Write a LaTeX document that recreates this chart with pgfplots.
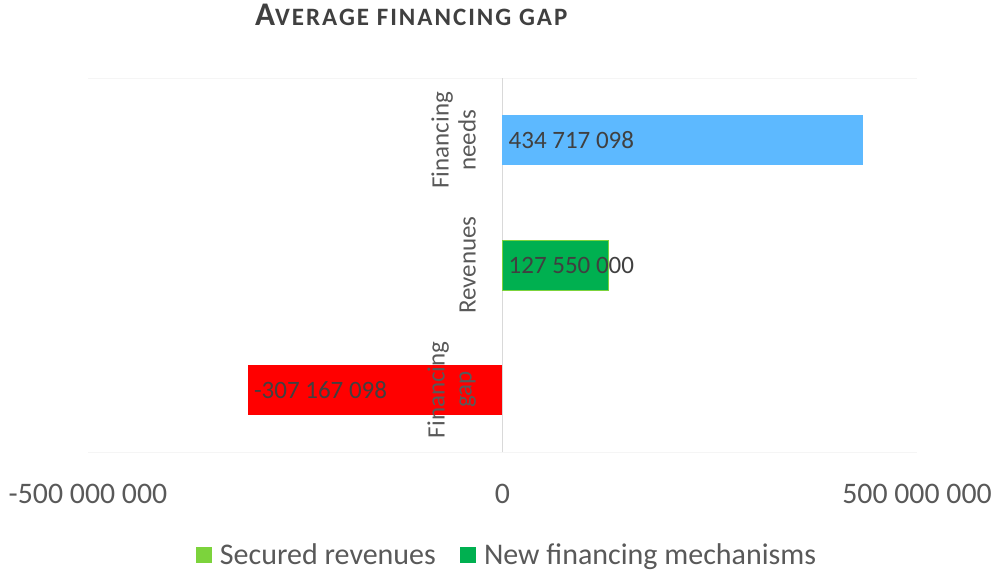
\documentclass[border=0pt]{standalone}
\usepackage{fontspec}
\setmainfont{Carlito}
\newfontfamily\titlefont[LetterSpace=8]{Carlito}
\usepackage{pgfplots}
\pgfplotsset{compat=1.18}
\definecolor{needs}{HTML}{5DB9FF}
\definecolor{newfin}{HTML}{00B050}
\definecolor{secured}{HTML}{7CD33C}
\definecolor{gapred}{HTML}{FF0000}
\definecolor{txt}{HTML}{595959}
\definecolor{lbl}{HTML}{404040}
\begin{document}
\begin{tikzpicture}
\begin{axis}[
  at={(0,0)}, anchor=south west,
  scale only axis, width=829pt, height=374pt,
  xmin=-500000000, xmax=500000000,
  ymin=0.5, ymax=3.5,
  axis on top=true,
  axis line style={draw=none},
  tick style={draw=none},
  major tick length=0pt,
  scaled x ticks=false,
  xtick={-500000000,0,500000000},
  xticklabels={-500 000 000,0,500 000 000},
  xticklabel style={anchor=base, yshift=-51pt, font=\fontsize{29.8}{34}\selectfont, text=txt},
  ytick={1,2,3},
  yticklabels={{Financing\\gap}, Revenues, {Financing\\needs}},
  yticklabel style={xshift=388pt, rotate=90, anchor=south, align=center, inner sep=0pt, font=\fontsize{25}{27}\selectfont, text=txt},
  clip=false,
  title={\titlefont\bfseries\fontsize{33}{36}\selectfont A\fontsize{25}{28}\selectfont VERAGE FINANCING GAP},
  title style={at={(axis description cs:0.2014,1.123)}, anchor=base west, text=lbl, inner sep=0pt},
  legend columns=2,
  legend style={at={(0.5054,-0.2754)}, anchor=center, draw=none, fill=none,
    font=\fontsize{30}{34}\selectfont, text=txt,
    /tikz/every even column/.append style={column sep=22pt}},
  legend image code/.code={\fill[#1, draw=none] (0pt,-8pt) rectangle (16pt,8pt); \path (22pt,0pt);},
]
\addplot[draw=black!4, forget plot] coordinates {(-500000000,3.5) (500000000,3.5)};
\addplot[draw=black!4, forget plot] coordinates {(-500000000,0.5) (500000000,0.5)};
\addplot[draw=black!15, forget plot] coordinates {(0,0.5) (0,3.5)};
\addplot[xbar, bar width=50pt, bar shift=0pt, fill=gapred, draw=none, forget plot] coordinates {(-307167098,1)};
\addplot[xbar, bar width=50pt, bar shift=0pt, fill=newfin, draw=secured, line width=1pt, forget plot] coordinates {(127550000,2)};
\addplot[xbar, bar width=50pt, bar shift=0pt, fill=needs, draw=none, forget plot] coordinates {(434717098,3)};
\addplot[draw=none, mark=none, forget plot, nodes near coords, point meta=explicit symbolic,
  every node near coord/.style={anchor=west, font=\fontsize{25}{29}\selectfont, text=lbl, inner sep=6pt}]
  coordinates {(0,3) [434 717 098] (0,2) [127 550 000] (-307167098,1) [-307 167 098]};
\addlegendimage{fill=secured}
\addlegendentry{Secured revenues}
\addlegendimage{fill=newfin}
\addlegendentry{New financing mechanisms}
\end{axis}
\pgfresetboundingbox
\path[use as bounding box] (-88pt,-121pt) rectangle (909pt,452pt);
\end{tikzpicture}
\end{document}
